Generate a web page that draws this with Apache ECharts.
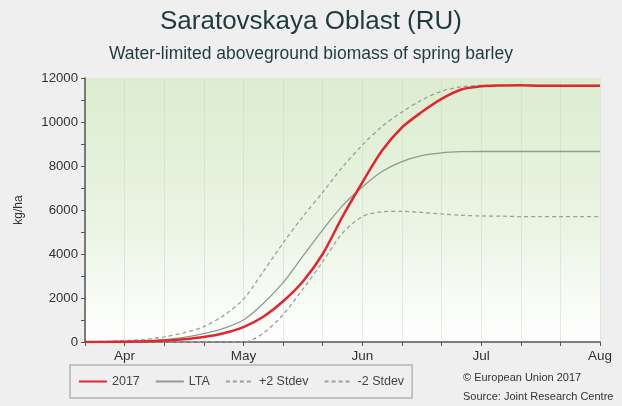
<!DOCTYPE html>
<html>
<head>
<meta charset="utf-8">
<script src="https://cdn.jsdelivr.net/npm/echarts@6/dist/echarts.min.js"></script>
<style>
html,body{margin:0;padding:0;background:#efefef;}
#chart{width:622px;height:406px;}
</style>
</head>
<body>
<div id="chart"></div>
<script>
// Dekad index: 0 = 21 Mar, 1 = 1 Apr, 4 = 1 May, 7 = 1 Jun, 10 = 1 Jul, 13 = 1 Aug
const dekadIdx = [0,0.5,1,1.5,2,2.5,3,3.5,4,4.5,5,5.5,6,6.5,7,7.5,8,8.5,9,9.5,10,10.5,11,11.5,12,12.5,13];
const monthTicks = [1,4,7,10,13];
const monthLabels = ['Apr','May','Jun','Jul','Aug'];
const yTickLabels = [0,2000,4000,6000,8000,10000,12000];

const s2017 = [0,5,15,35,70,130,230,400,680,1150,1850,2750,4000,5700,7250,8700,9750,10450,11050,11480,11620,11660,11670,11650,11650,11650,11650];
const sLTA = [0,5,20,50,110,210,380,620,1000,1750,2700,3900,5100,6200,7050,7750,8200,8470,8600,8650,8660,8660,8660,8660,8660,8660,8660];
const sPlus = [10,30,60,120,230,420,700,1200,1950,3200,4500,5700,6800,7950,8950,9800,10450,11000,11400,11600,11660,11660,11660,11660,11660,11660,11660];
const sMinus = [0,0,0,0,0,0,0,0,0,400,1250,2400,3650,4950,5700,5920,5940,5890,5820,5760,5730,5720,5700,5700,5700,5700,5700];

const pairs = arr => dekadIdx.map((x,i)=>[x, arr[i]]);
const FONT = '"Liberation Sans", Arial, sans-serif';
const chart = echarts.init(document.getElementById('chart'), null, {renderer:'canvas'});

chart.setOption({
  backgroundColor: '#efefef',
  animation: false,
  textStyle: {fontFamily: FONT},
  title: [
    {text: 'Saratovskaya Oblast (RU)', left: 'center', top: 4,
     textStyle: {fontFamily: FONT, fontSize: 26, fontWeight: 'normal', color: '#1f3b3f'}},
    {text: 'Water-limited aboveground biomass of spring barley', left: 'center', top: 40,
     textStyle: {fontFamily: FONT, fontSize: 17.5, fontWeight: 'normal', color: '#1f3b3f'}}
  ],
  grid: {
    left: 85, right: 22, top: 78, bottom: 64,
    show: true, borderWidth: 0,
    backgroundColor: new echarts.graphic.LinearGradient(0,0,0,1,[
      {offset:0, color:'#dcedd0'},
      {offset:0.55, color:'#eaf4e3'},
      {offset:1, color:'#ffffff'}
    ])
  },
  xAxis: {
    type: 'value', min: 0, max: 13, interval: 1,
    axisLine: {show: true, onZero: false, lineStyle: {color: '#555', width: 1.5}},
    axisTick: {show: true, length: 4, lineStyle: {color: '#555'}},
    splitLine: {show: true, lineStyle: {color: 'rgba(200,210,200,0.45)', width: 1}},
    axisLabel: {
      margin: 7, fontSize: 13.5, color: '#333', fontFamily: FONT,
      formatter: v => { const i = monthTicks.indexOf(v); return i >= 0 ? monthLabels[i] : ''; }
    }
  },
  yAxis: {
    type: 'value', min: 0, max: 12000, interval: 1000,
    name: 'kg/ha', nameLocation: 'middle', nameGap: 60,
    nameTextStyle: {fontSize: 12, color: '#333', fontFamily: FONT},
    axisLine: {show: true, lineStyle: {color: '#555', width: 1.5}},
    axisTick: {show: true, length: 4, lineStyle: {color: '#555'}},
    splitLine: {show: false},
    axisLabel: {
      fontSize: 13.2, color: '#333', margin: 7, fontFamily: FONT,
      formatter: v => yTickLabels.indexOf(v) >= 0 ? String(v) : ''
    }
  },
  legend: {
    left: 70, top: 365, orient: 'horizontal',
    borderColor: '#b5b5b5', borderWidth: 1.5, backgroundColor: '#efefef',
    padding: [10, 8, 10, 8],
    itemWidth: 28, itemHeight: 10, itemGap: 15,
    itemStyle: {opacity: 0},
    textStyle: {fontSize: 12.5, color: '#444', fontFamily: FONT},
    data: ['2017','LTA','+2 Stdev','-2 Stdev']
  },
  graphic: [
    {type: 'text', left: 463, top: 372, style: {text: '\u00A9 European Union 2017', fontSize: 11, fill: '#333', fontFamily: FONT}},
    {type: 'text', left: 463, top: 391, style: {text: 'Source: Joint Research Centre', fontSize: 11, fill: '#333', fontFamily: FONT}}
  ],
  series: [
    {name: '-2 Stdev', type: 'line', data: pairs(sMinus), smooth: 0.3, showSymbol: false, symbol: 'none',
     lineStyle: {color: '#9a9f9f', width: 1.3, type: [4,3]}, itemStyle: {color: '#9a9f9f'}, z: 2},
    {name: '+2 Stdev', type: 'line', data: pairs(sPlus), smooth: 0.3, showSymbol: false, symbol: 'none',
     lineStyle: {color: '#9a9f9f', width: 1.3, type: [4,3]}, itemStyle: {color: '#9a9f9f'}, z: 2},
    {name: 'LTA', type: 'line', data: pairs(sLTA), smooth: 0.3, showSymbol: false, symbol: 'none',
     lineStyle: {color: '#8f9a91', width: 1.3}, itemStyle: {color: '#8f9a91'}, z: 3},
    {name: '2017', type: 'line', data: pairs(s2017), smooth: 0.3, showSymbol: false, symbol: 'none',
     lineStyle: {color: '#e3262d', width: 2.5}, itemStyle: {color: '#e3262d'}, z: 4}
  ]
});
</script>
</body>
</html>
